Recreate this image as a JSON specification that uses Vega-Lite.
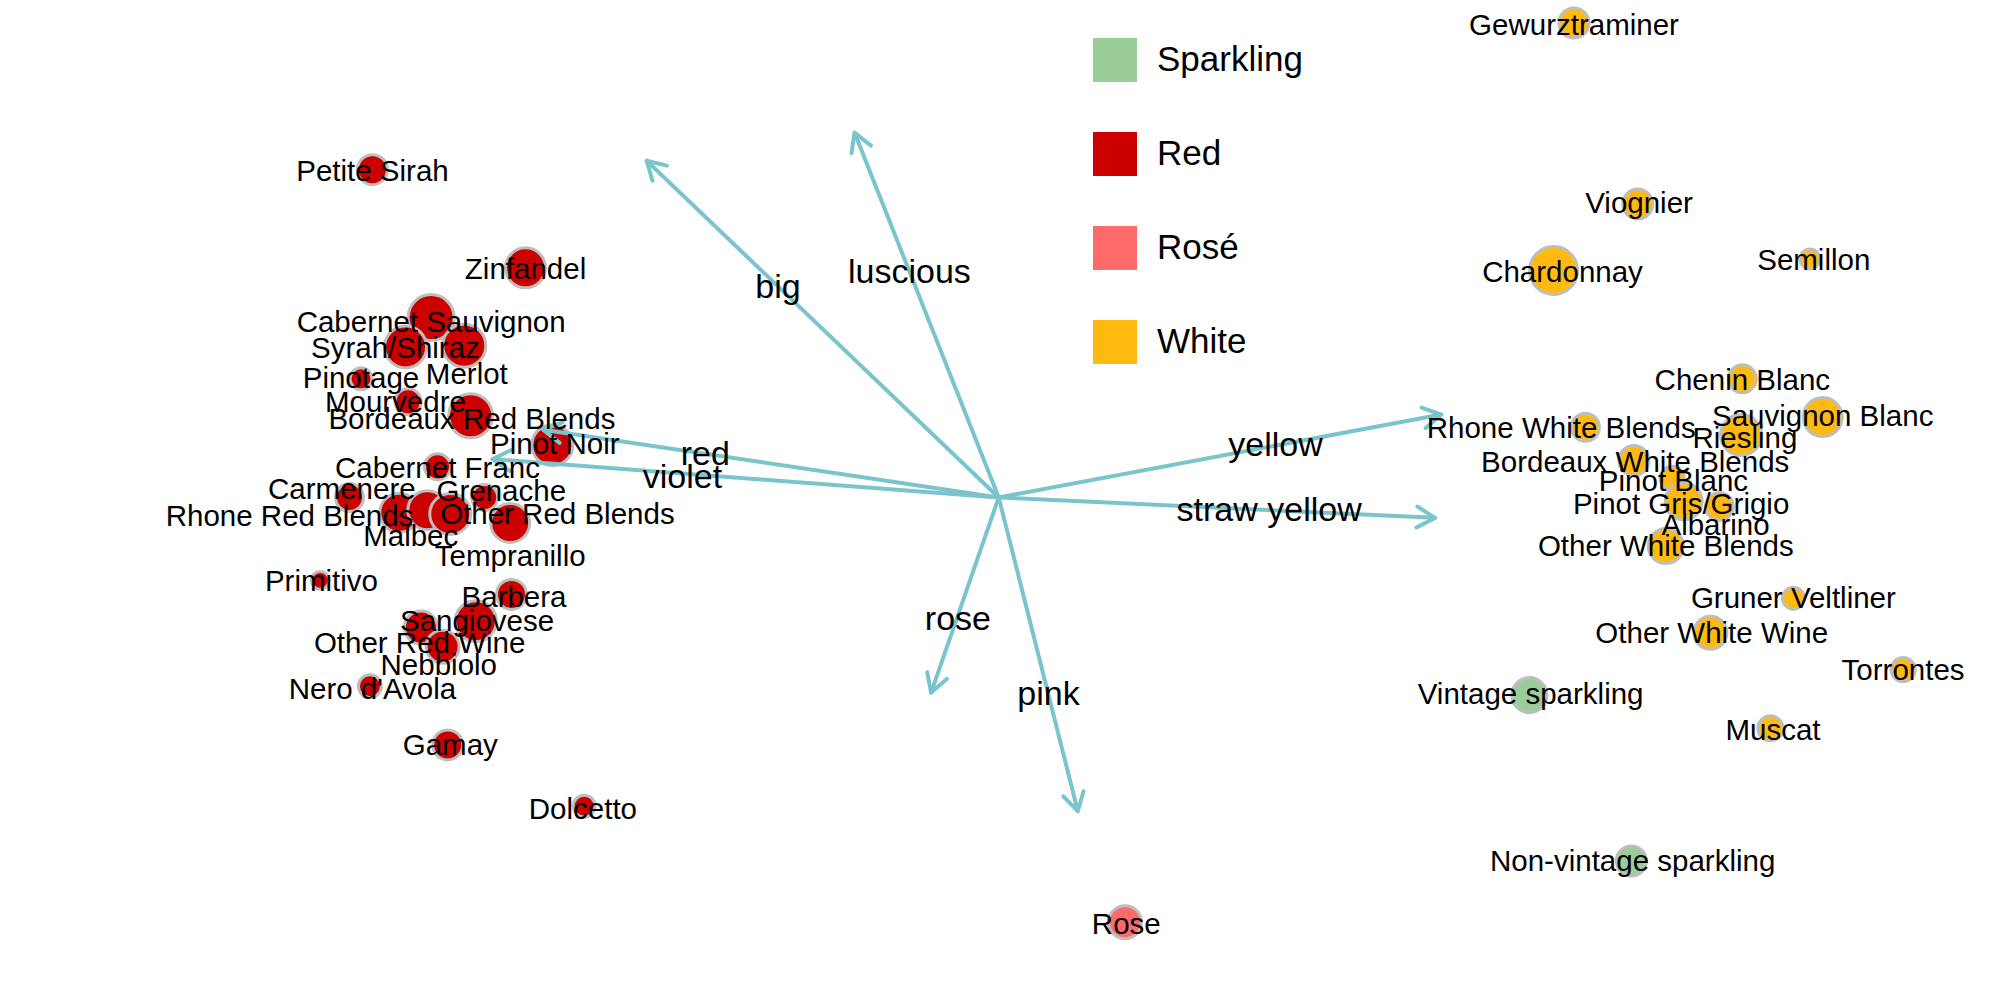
{
  "$schema": "https://vega.github.io/schema/vega-lite/v6.json",
  "width": 2000,
  "height": 1000,
  "autosize": {"type": "none"},
  "padding": 0,
  "background": "white",
  "config": {"view": {"stroke": null}, "font": "Liberation Sans"},
  "datasets": {
    "wines": [
      {"wine": "Petite Sirah", "type": "Red", "pc1": -4.91, "pc2": 2.57, "lab1": -4.91, "lab2": 2.55, "weight": 9.0},
      {"wine": "Zinfandel", "type": "Red", "pc1": -3.71, "pc2": 1.80, "lab1": -3.71, "lab2": 1.78, "weight": 16.0},
      {"wine": "Cabernet Sauvignon", "type": "Red", "pc1": -4.45, "pc2": 1.41, "lab1": -4.45, "lab2": 1.37, "weight": 21.2},
      {"wine": "Syrah/Shiraz", "type": "Red", "pc1": -4.65, "pc2": 1.18, "lab1": -4.73, "lab2": 1.16, "weight": 17.6},
      {"wine": "Merlot", "type": "Red", "pc1": -4.19, "pc2": 1.19, "lab1": -4.17, "lab2": 0.96, "weight": 18.5},
      {"wine": "Pinotage", "type": "Red", "pc1": -5.00, "pc2": 0.93, "lab1": -5.00, "lab2": 0.93, "weight": 4.8},
      {"wine": "Mourvedre", "type": "Red", "pc1": -4.63, "pc2": 0.75, "lab1": -4.73, "lab2": 0.74, "weight": 6.8},
      {"wine": "Bordeaux Red Blends", "type": "Red", "pc1": -4.14, "pc2": 0.64, "lab1": -4.13, "lab2": 0.61, "weight": 19.4},
      {"wine": "Pinot Noir", "type": "Red", "pc1": -3.50, "pc2": 0.41, "lab1": -3.48, "lab2": 0.41, "weight": 16.8},
      {"wine": "Cabernet Franc", "type": "Red", "pc1": -4.40, "pc2": 0.24, "lab1": -4.40, "lab2": 0.22, "weight": 6.8},
      {"wine": "Carmenere", "type": "Red", "pc1": -5.09, "pc2": 0.00, "lab1": -5.15, "lab2": 0.06, "weight": 7.8},
      {"wine": "Grenache", "type": "Red", "pc1": -4.03, "pc2": 0.00, "lab1": -3.90, "lab2": 0.04, "weight": 6.8},
      {"wine": "Rhone Red Blends", "type": "Red", "pc1": -4.70, "pc2": -0.12, "lab1": -5.56, "lab2": -0.15, "weight": 15.2},
      {"wine": "Malbec", "type": "Red", "pc1": -4.48, "pc2": -0.10, "lab1": -4.61, "lab2": -0.31, "weight": 15.2},
      {"wine": "Other Red Blends", "type": "Red", "pc1": -4.30, "pc2": -0.13, "lab1": -3.46, "lab2": -0.14, "weight": 16.8},
      {"wine": "Tempranillo", "type": "Red", "pc1": -3.83, "pc2": -0.20, "lab1": -3.83, "lab2": -0.47, "weight": 15.2},
      {"wine": "Primitivo", "type": "Red", "pc1": -5.32, "pc2": -0.65, "lab1": -5.31, "lab2": -0.66, "weight": 3.2},
      {"wine": "Barbera", "type": "Red", "pc1": -3.82, "pc2": -0.76, "lab1": -3.80, "lab2": -0.79, "weight": 9.0},
      {"wine": "Sangiovese", "type": "Red", "pc1": -4.10, "pc2": -0.97, "lab1": -4.09, "lab2": -0.98, "weight": 16.8},
      {"wine": "Other Red Wine", "type": "Red", "pc1": -4.53, "pc2": -1.02, "lab1": -4.54, "lab2": -1.15, "weight": 10.9},
      {"wine": "Nebbiolo", "type": "Red", "pc1": -4.36, "pc2": -1.17, "lab1": -4.39, "lab2": -1.32, "weight": 10.9},
      {"wine": "Nero d'Avola", "type": "Red", "pc1": -4.93, "pc2": -1.48, "lab1": -4.91, "lab2": -1.51, "weight": 5.3},
      {"wine": "Gamay", "type": "Red", "pc1": -4.32, "pc2": -1.94, "lab1": -4.30, "lab2": -1.95, "weight": 9.0},
      {"wine": "Dolcetto", "type": "Red", "pc1": -3.25, "pc2": -2.42, "lab1": -3.26, "lab2": -2.45, "weight": 4.8},
      {"wine": "Gewurztraminer", "type": "White", "pc1": 4.51, "pc2": 3.72, "lab1": 4.51, "lab2": 3.70, "weight": 9.0},
      {"wine": "Viognier", "type": "White", "pc1": 5.01, "pc2": 2.30, "lab1": 5.02, "lab2": 2.30, "weight": 9.0},
      {"wine": "Chardonnay", "type": "White", "pc1": 4.35, "pc2": 1.78, "lab1": 4.42, "lab2": 1.76, "weight": 23.0},
      {"wine": "Semillon", "type": "White", "pc1": 6.36, "pc2": 1.87, "lab1": 6.39, "lab2": 1.85, "weight": 4.0},
      {"wine": "Chenin Blanc", "type": "White", "pc1": 5.83, "pc2": 0.93, "lab1": 5.83, "lab2": 0.91, "weight": 7.8},
      {"wine": "Sauvignon Blanc", "type": "White", "pc1": 6.46, "pc2": 0.63, "lab1": 6.46, "lab2": 0.63, "weight": 15.2},
      {"wine": "Rhone White Blends", "type": "White", "pc1": 4.60, "pc2": 0.55, "lab1": 4.41, "lab2": 0.54, "weight": 7.8},
      {"wine": "Riesling", "type": "White", "pc1": 5.82, "pc2": 0.49, "lab1": 5.85, "lab2": 0.46, "weight": 16.8},
      {"wine": "Bordeaux White Blends", "type": "White", "pc1": 4.98, "pc2": 0.29, "lab1": 4.99, "lab2": 0.27, "weight": 9.0},
      {"wine": "Pinot Blanc", "type": "White", "pc1": 5.28, "pc2": 0.15, "lab1": 5.29, "lab2": 0.12, "weight": 5.8},
      {"wine": "Pinot Gris/Grigio", "type": "White", "pc1": 5.37, "pc2": -0.03, "lab1": 5.35, "lab2": -0.06, "weight": 13.7},
      {"wine": "Albarino", "type": "White", "pc1": 5.65, "pc2": -0.07, "lab1": 5.62, "lab2": -0.22, "weight": 7.8},
      {"wine": "Other White Blends", "type": "White", "pc1": 5.23, "pc2": -0.38, "lab1": 5.23, "lab2": -0.39, "weight": 12.3},
      {"wine": "Gruner Veltliner", "type": "White", "pc1": 6.23, "pc2": -0.79, "lab1": 6.23, "lab2": -0.80, "weight": 4.8},
      {"wine": "Other White Wine", "type": "White", "pc1": 5.58, "pc2": -1.06, "lab1": 5.59, "lab2": -1.07, "weight": 10.9},
      {"wine": "Torrontes", "type": "White", "pc1": 7.09, "pc2": -1.35, "lab1": 7.09, "lab2": -1.36, "weight": 5.8},
      {"wine": "Muscat", "type": "White", "pc1": 6.05, "pc2": -1.81, "lab1": 6.07, "lab2": -1.83, "weight": 6.3},
      {"wine": "Vintage sparkling", "type": "Sparkling", "pc1": 4.16, "pc2": -1.55, "lab1": 4.17, "lab2": -1.55, "weight": 12.3},
      {"wine": "Non-vintage sparkling", "type": "Sparkling", "pc1": 4.96, "pc2": -2.85, "lab1": 4.97, "lab2": -2.86, "weight": 9.0},
      {"wine": "Rose", "type": "Rosé", "pc1": 0.99, "pc2": -3.33, "lab1": 1.00, "lab2": -3.35, "weight": 10.9}
    ],
    "arrows": [
      {"term": "big", "ax": -2.76, "ay": 2.64, "tx": -1.73, "ty": 1.64},
      {"term": "luscious", "ax": -1.13, "ay": 2.86, "tx": -0.70, "ty": 1.76},
      {"term": "red", "ax": -3.57, "ay": 0.53, "tx": -2.30, "ty": 0.33},
      {"term": "violet", "ax": -3.97, "ay": 0.30, "tx": -2.48, "ty": 0.15},
      {"term": "yellow", "ax": 3.47, "ay": 0.65, "tx": 2.17, "ty": 0.40},
      {"term": "straw yellow", "ax": 3.42, "ay": -0.16, "tx": 2.12, "ty": -0.11},
      {"term": "rose", "ax": -0.53, "ay": -1.53, "tx": -0.32, "ty": -0.96},
      {"term": "pink", "ax": 0.62, "ay": -2.46, "tx": 0.39, "ty": -1.55}
    ]
  },
  "layer": [
    {
      "data": {"name": "wines"},
      "mark": {"type": "point", "shape": "circle", "filled": true, "opacity": 1, "stroke": "#BEBEBE", "strokeWidth": 3, "clip": false},
      "encoding": {
        "x": {"field": "pc1", "type": "quantitative", "axis": null, "scale": {"domain": [-7.83, 7.85], "nice": false, "zero": false}},
        "y": {"field": "pc2", "type": "quantitative", "axis": null, "scale": {"domain": [-3.94, 3.90], "nice": false, "zero": false}},
        "size": {"field": "weight", "type": "quantitative", "legend": null, "scale": {"domain": [0, 25], "range": [0, 2500], "zero": true}},
        "fill": {
          "field": "type", "type": "nominal",
          "scale": {"domain": ["Sparkling", "Red", "Rosé", "White"], "range": ["#9BCD9B", "#CD0000", "#FF6A6A", "#FFB90F"]},
          "legend": {
            "orient": "none", "legendX": 1093, "legendY": 38, "title": null,
            "symbolType": "square", "symbolSize": 1936, "symbolStrokeWidth": 0, "symbolOpacity": 1,
            "labelFontSize": 35, "labelFont": "Liberation Sans", "labelColor": "black",
            "labelOffset": 20, "rowPadding": 50, "padding": 0
          }
        }
      }
    },
    {
      "data": {"name": "arrows"},
      "mark": {"type": "rule", "color": "#7AC5CD", "strokeWidth": 4, "strokeCap": "round"},
      "encoding": {
        "x": {"field": "ax", "type": "quantitative"},
        "y": {"field": "ay", "type": "quantitative"},
        "x2": {"datum": 0},
        "y2": {"datum": 0}
      }
    },
    {
      "data": {"name": "arrows"},
      "transform": [{"calculate": "-atan2(datum.ay, datum.ax) * 180 / PI", "as": "heading"}],
      "mark": {"type": "point", "shape": "M-1,-0.58L0,0L-1,0.58", "filled": false, "stroke": "#7AC5CD", "strokeWidth": 4, "strokeCap": "round", "strokeJoin": "round", "size": 1300, "opacity": 1},
      "encoding": {
        "x": {"field": "ax", "type": "quantitative"},
        "y": {"field": "ay", "type": "quantitative"},
        "angle": {"field": "heading", "type": "quantitative", "scale": null}
      }
    },
    {
      "data": {"name": "wines"},
      "mark": {"type": "text", "fontSize": 29.5, "font": "Liberation Sans", "color": "black", "baseline": "middle", "align": "center"},
      "encoding": {
        "x": {"field": "lab1", "type": "quantitative"},
        "y": {"field": "lab2", "type": "quantitative"},
        "text": {"field": "wine"}
      }
    },
    {
      "data": {"name": "arrows"},
      "mark": {"type": "text", "fontSize": 34, "font": "Liberation Sans", "color": "black", "baseline": "middle", "align": "center"},
      "encoding": {
        "x": {"field": "tx", "type": "quantitative"},
        "y": {"field": "ty", "type": "quantitative"},
        "text": {"field": "term"}
      }
    }
  ]
}
